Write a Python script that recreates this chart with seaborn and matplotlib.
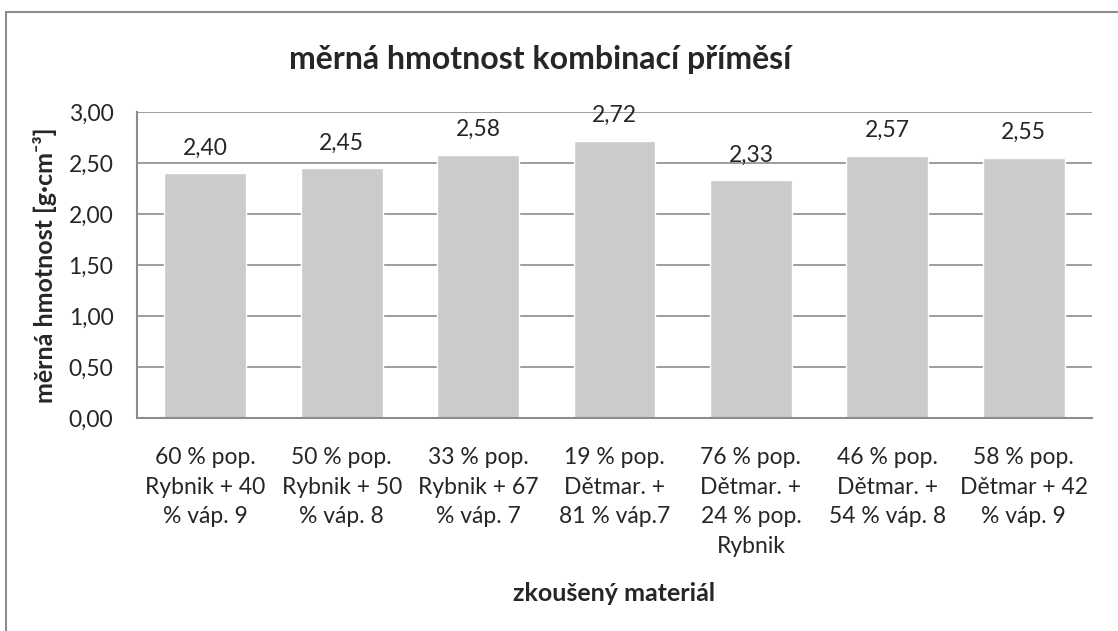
import numpy as np
import pandas as pd
import matplotlib
matplotlib.use("Agg")
import matplotlib.pyplot as plt
import seaborn as sns
from matplotlib.patches import Rectangle

# data
materials = [
    "60 % pop.\nRybnik + 40\n% váp. 9",
    "50 % pop.\nRybnik + 50\n% váp. 8",
    "33 % pop.\nRybnik + 67\n% váp. 7",
    "19 % pop.\nDětmar. +\n81 % váp.7",
    "76 % pop.\nDětmar. +\n24 % pop.\nRybnik",
    "46 % pop.\nDětmar. +\n54 % váp. 8",
    "58 % pop.\nDětmar + 42\n% váp. 9",
]
density = [2.40, 2.45, 2.58, 2.72, 2.33, 2.57, 2.55]
y_ticks = [0.0, 0.5, 1.0, 1.5, 2.0, 2.5, 3.0]

df = pd.DataFrame({"material": materials, "density": density})

sns.set_style("white")
plt.rcParams["font.family"] = ["Lato", "DejaVu Sans"]

fig = plt.figure(figsize=(11.18, 6.31), dpi=100)
ax = fig.add_axes([137 / 1118, 1 - 418 / 631, (1092 - 137) / 1118, (418 - 112) / 631])

sns.barplot(data=df, x="material", y="density", color="#CBCBCB", saturation=1,
            width=0.6, ax=ax)

ax.set_ylim(0, 3)
ax.set_yticks(y_ticks)
ax.set_yticklabels([f"{v:.2f}".replace(".", ",") for v in y_ticks], fontsize=16.5)
ax.set_xlim(-0.5, len(materials) - 0.5)
ax.yaxis.grid(True, color="#8C8C8C", linewidth=1.2)
ax.set_axisbelow(True)
ax.tick_params(axis="y", length=8, width=1.2, color="#8C8C8C", direction="out", pad=9)
ax.tick_params(axis="x", length=0, pad=21)
for lbl in ax.get_xticklabels():
    lbl.set_fontsize(16.5)
    lbl.set_linespacing(1.5)
    lbl.set_verticalalignment("top")
for s in ["top", "right"]:
    ax.spines[s].set_visible(False)
for s in ["left", "bottom"]:
    ax.spines[s].set_color("#8C8C8C")
    ax.spines[s].set_linewidth(1.5)

# value labels above the bars
for i, v in enumerate(density):
    ax.annotate(f"{v:.2f}".replace(".", ","), (i, v), xytext=(0, 10.5),
                textcoords="offset points", ha="center", va="bottom", fontsize=16.5)

ax.set_xlabel("zkoušený materiál", fontsize=18, fontweight="bold", labelpad=18)
ax.set_ylabel("měrná hmotnost [g·cm⁻³]", fontsize=18, fontweight="bold", labelpad=8)

fig.text(540 / 1118, 1 - 60 / 631, "měrná hmotnost kombinací příměsí",
         ha="center", va="center", fontsize=23, fontweight="bold")

# chart frame like the spreadsheet chart area
fig.patches.append(Rectangle((6 / 1118, -0.1), 1.2, 1 - 12 / 631 + 0.1,
                             transform=fig.transFigure, fill=False,
                             edgecolor="#8C8C8C", linewidth=1.5))

fig.savefig("out.png", dpi=100)
